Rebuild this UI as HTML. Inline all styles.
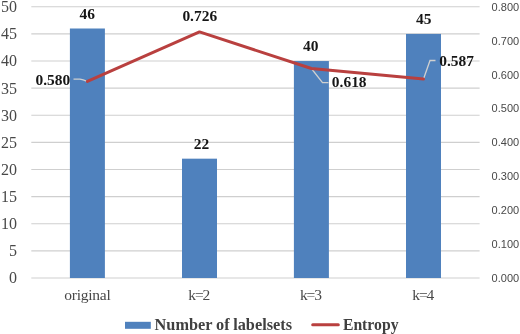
<!DOCTYPE html>
<html><head><meta charset="utf-8"><title>chart</title>
<style>
html,body{margin:0;padding:0;background:#fff;}
svg{display:block}
.ax{font-family:"Liberation Serif",serif;font-size:16px;fill:#484848}
.ct{font-family:"Liberation Serif",serif;font-size:15.5px;fill:#484848}
.rx{font-family:"Liberation Sans",sans-serif;font-size:11px;fill:#484848}
.dl{font-family:"Liberation Serif",serif;font-size:14.3px;font-weight:bold;fill:#161616}
.lg{font-family:"Liberation Serif",serif;font-size:16.3px;font-weight:bold;fill:#404040}
</style></head><body>
<svg width="520" height="334" viewBox="0 0 520 334">
<rect width="520" height="334" fill="#fff"/>
<g stroke="#cfcfcf" stroke-width="1.1">
<line x1="31.3" x2="479.6" y1="6.80" y2="6.80"/>
<line x1="31.3" x2="479.6" y1="33.92" y2="33.92"/>
<line x1="31.3" x2="479.6" y1="61.04" y2="61.04"/>
<line x1="31.3" x2="479.6" y1="88.16" y2="88.16"/>
<line x1="31.3" x2="479.6" y1="115.28" y2="115.28"/>
<line x1="31.3" x2="479.6" y1="142.40" y2="142.40"/>
<line x1="31.3" x2="479.6" y1="169.52" y2="169.52"/>
<line x1="31.3" x2="479.6" y1="196.64" y2="196.64"/>
<line x1="31.3" x2="479.6" y1="223.76" y2="223.76"/>
<line x1="31.3" x2="479.6" y1="250.88" y2="250.88"/>
<line x1="31.3" x2="479.6" y1="278.00" y2="278.00"/>
</g>
<g fill="#4f81bd">
<rect x="69.90" y="28.50" width="35.00" height="249.50"/>
<rect x="182.00" y="158.67" width="35.00" height="119.33"/>
<rect x="293.90" y="61.04" width="35.00" height="216.96"/>
<rect x="406.00" y="33.92" width="35.00" height="244.08"/>
</g>
<g fill="none" stroke="#d0d0d0" stroke-width="1.3">
<path d="M73.5 79.2 L80 79.2 Q83 79.6 87 81.4"/>
<path d="M311.4 68.5 L322.5 82.7 L328.5 82.7"/>
<path d="M423.5 79.0 L430 60.5 L435.5 60.5"/>
</g>
<polyline fill="none" stroke="#b9403f" stroke-width="3" stroke-linejoin="round" stroke-linecap="round" points="87.4,81.4 199.5,31.9 311.4,68.5 423.5,79.0"/>
<text class="ax" text-anchor="end" transform="translate(17.10 12.00) scale(1.0 1)">50</text>
<text class="ax" text-anchor="end" transform="translate(17.10 39.00) scale(1.0 1)">45</text>
<text class="ax" text-anchor="end" transform="translate(17.10 66.00) scale(1.0 1)">40</text>
<text class="ax" text-anchor="end" transform="translate(17.10 94.00) scale(1.0 1)">35</text>
<text class="ax" text-anchor="end" transform="translate(17.10 121.00) scale(1.0 1)">30</text>
<text class="ax" text-anchor="end" transform="translate(17.10 148.00) scale(1.0 1)">25</text>
<text class="ax" text-anchor="end" transform="translate(17.10 175.00) scale(1.0 1)">20</text>
<text class="ax" text-anchor="end" transform="translate(17.10 202.00) scale(1.0 1)">15</text>
<text class="ax" text-anchor="end" transform="translate(17.10 229.00) scale(1.0 1)">10</text>
<text class="ax" text-anchor="end" transform="translate(17.10 256.00) scale(1.0 1)">5</text>
<text class="ax" text-anchor="end" transform="translate(17.10 283.00) scale(1.0 1)">0</text>
<text class="rx" text-anchor="start" transform="translate(491.60 11.00) scale(1.0 1)">0.800</text>
<text class="rx" text-anchor="start" transform="translate(491.60 45.00) scale(1.0 1)">0.700</text>
<text class="rx" text-anchor="start" transform="translate(491.60 79.00) scale(1.0 1)">0.600</text>
<text class="rx" text-anchor="start" transform="translate(491.60 112.00) scale(1.0 1)">0.500</text>
<text class="rx" text-anchor="start" transform="translate(491.60 146.00) scale(1.0 1)">0.400</text>
<text class="rx" text-anchor="start" transform="translate(491.60 180.00) scale(1.0 1)">0.300</text>
<text class="rx" text-anchor="start" transform="translate(491.60 214.00) scale(1.0 1)">0.200</text>
<text class="rx" text-anchor="start" transform="translate(491.60 248.00) scale(1.0 1)">0.100</text>
<text class="rx" text-anchor="start" transform="translate(491.60 282.00) scale(1.0 1)">0.000</text>
<text class="ct" text-anchor="start" letter-spacing="-0.26" transform="translate(64.30 300.00) scale(1.0 1)">original</text>
<text class="ct" text-anchor="start" letter-spacing="-1.1" transform="translate(188.30 300.00) scale(1.0 1)">k=2</text>
<text class="ct" text-anchor="start" letter-spacing="-1.1" transform="translate(299.90 300.00) scale(1.0 1)">k=3</text>
<text class="ct" text-anchor="start" letter-spacing="-1.1" transform="translate(412.30 300.00) scale(1.0 1)">k=4</text>
<text class="dl" text-anchor="middle" transform="translate(87.30 19.00) scale(1.08 1)">46</text>
<text class="dl" text-anchor="middle" transform="translate(201.50 149.00) scale(1.08 1)">22</text>
<text class="dl" text-anchor="middle" transform="translate(310.70 51.00) scale(1.08 1)">40</text>
<text class="dl" text-anchor="middle" transform="translate(423.70 24.00) scale(1.08 1)">45</text>
<text class="dl" text-anchor="middle" transform="translate(199.75 21.00) scale(1.08 1)">0.726</text>
<text class="dl" text-anchor="middle" transform="translate(52.90 85.00) scale(1.08 1)">0.580</text>
<text class="dl" text-anchor="middle" transform="translate(349.20 87.00) scale(1.08 1)">0.618</text>
<text class="dl" text-anchor="middle" transform="translate(456.60 66.00) scale(1.08 1)">0.587</text>
<rect x="125" y="321.8" width="25.8" height="7" fill="#4f81bd"/>
<text class="lg" text-anchor="start" transform="translate(154.60 330.00) scale(1.0 1)">Number</text>
<text class="lg" text-anchor="start" transform="translate(216.00 330.00) scale(1.0 1)">of</text>
<text class="lg" text-anchor="start" transform="translate(233.20 330.00) scale(1.0 1)">labelsets</text>
<line x1="312.7" x2="338.3" y1="324.8" y2="324.8" stroke="#b9403f" stroke-width="3" stroke-linecap="round"/>
<text class="lg" text-anchor="start" transform="translate(342.90 330.00) scale(0.965 1)">Entropy</text>
</svg>
</body></html>
